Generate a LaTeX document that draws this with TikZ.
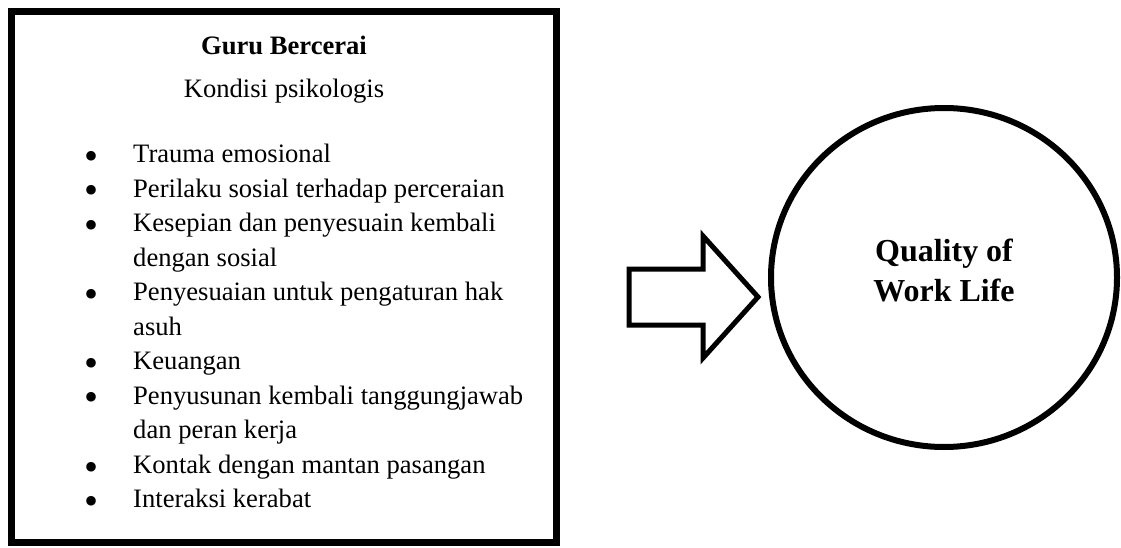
\documentclass[tikz,border=0pt]{standalone}
\usepackage{fontspec}
\setmainfont{Liberation Serif}
\usetikzlibrary{shapes.geometric,positioning}

\newcommand{\isifont}{\fontsize{26.6}{34.5}\selectfont}
\newcommand{\qwlfont}{\fontsize{32}{40}\selectfont\bfseries}
\newcommand{\poin}{\makebox[0pt][r]{\raisebox{-6.5pt}{\fontsize{40}{0}\selectfont\textbullet}}}

\tikzset{
  kotak/.style={draw, line width=7pt, minimum width=545pt, minimum height=531pt, inner sep=0pt},
  lingkaran/.style={draw, ellipse, line width=6pt, minimum width=346pt, minimum height=339pt, inner sep=0pt},
  panah/.style={draw, line width=5pt, line join=miter},
  teks/.style={font=\isifont, inner sep=0pt}
}

\begin{document}
\begin{tikzpicture}[x=1pt,y=-1pt]
  \useasboundingbox (0,0) rectangle (1121,548);

  \node[kotak] (guru) at (284,277) {};
  \node[teks, font=\isifont\bfseries, anchor=base] (judul) at (284,55) {Guru Bercerai};
  \node[teks, anchor=base] (kondisi) at (284,98) {Kondisi psikologis};
  \node[teks, anchor=base west] (daftar) at (90,163) {%
    \begin{minipage}[t]{450pt}
      \begin{list}{\poin}{\setlength{\leftmargin}{43pt}\setlength{\labelwidth}{0pt}%
          \setlength{\labelsep}{35pt}\setlength{\itemsep}{0pt}\setlength{\parsep}{0pt}%
          \setlength{\topsep}{0pt}\setlength{\partopsep}{0pt}}
        \item Trauma emosional
        \item Perilaku sosial terhadap perceraian
        \item Kesepian dan penyesuain kembali\\dengan sosial
        \item Penyesuaian untuk pengaturan hak\\asuh
        \item Keuangan
        \item Penyusunan kembali tanggungjawab\\dan peran kerja
        \item Kontak dengan mantan pasangan
        \item Interaksi kerabat
      \end{list}
    \end{minipage}};

  % panah blok
  \draw[panah] (629,269) -- (703,269) -- (703,236) -- (758,297) -- (703,358)
    -- (703,325) -- (629,325) -- cycle;

  \node[lingkaran] (qwl) at (944,277.5) {};
  \node[font=\qwlfont, align=center, inner sep=0pt] (qwlteks) at ([yshift=7pt]qwl.center) {Quality of\\Work Life};
\end{tikzpicture}
\end{document}
